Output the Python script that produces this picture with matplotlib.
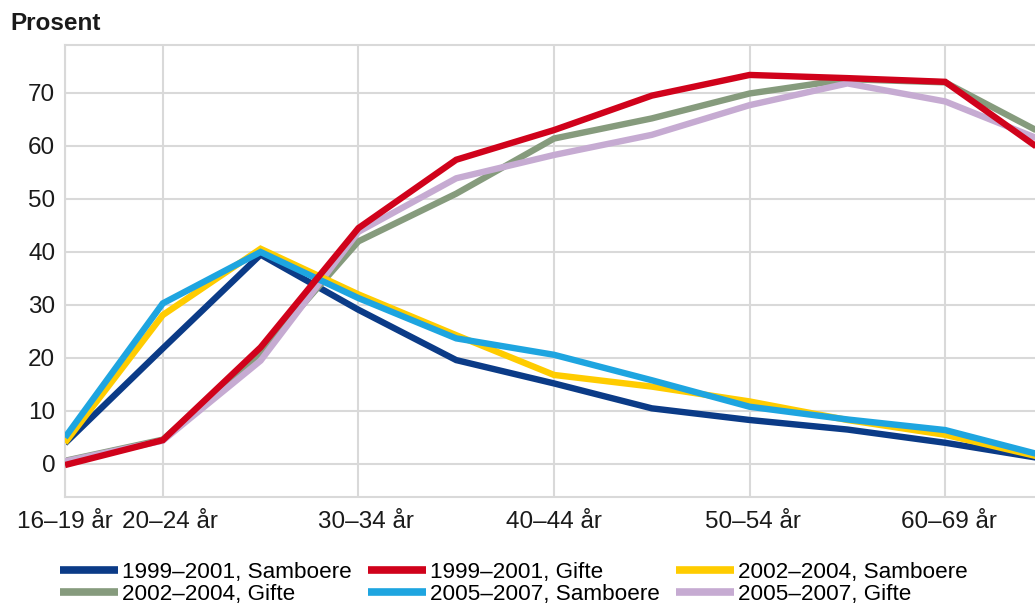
import matplotlib
matplotlib.use("Agg")
import matplotlib.pyplot as plt
from matplotlib.lines import Line2D
from matplotlib.transforms import ScaledTranslation

plt.rcParams['font.family'] = ['Liberation Sans', 'DejaVu Sans']

categories = ["16–19 år", "20–24 år", "25–29 år", "30–34 år", "35–39 år", "40–44 år",
              "45–49 år", "50–54 år", "55–59 år", "60–69 år", "70–79 år"]
shown_ticks = [0, 1, 3, 5, 7, 9]

samboere_1999 = [3.9, 21.8, 39.5, 29.1, 19.6, 15.2, 10.5, 8.3, 6.5, 4.0, 1.0]
gifte_1999    = [-0.2, 4.5, 22.0, 44.5, 57.4, 63.0, 69.5, 73.4, 72.8, 72.1, 59.0]
samboere_2002 = [4.0, 28.1, 40.6, 32.0, 24.3, 16.8, 14.6, 11.8, 8.3, 5.5, 1.2]
gifte_2002    = [0.6, 4.6, 21.0, 42.0, 51.0, 61.4, 65.2, 69.9, 72.6, 72.0, 62.3]
samboere_2005 = [5.0, 30.3, 40.0, 31.3, 23.7, 20.6, 15.8, 10.8, 8.4, 6.4, 1.6]
gifte_2005    = [0.5, 4.4, 19.5, 43.8, 53.9, 58.3, 62.1, 67.7, 71.8, 68.4, 61.0]

series = [
    ("1999–2001, Samboere", samboere_1999, "#0b3b87", 1),
    ("1999–2001, Gifte", gifte_1999, "#d0021b", 6),
    ("2002–2004, Samboere", samboere_2002, "#ffcc00", 4),
    ("2002–2004, Gifte", gifte_2002, "#869b7d", 2),
    ("2005–2007, Samboere", samboere_2005, "#1ea5e0", 5),
    ("2005–2007, Gifte", gifte_2005, "#c6abd2", 3),
]

W, H = 1035, 608
fig = plt.figure(figsize=(W / 100, H / 100), dpi=100)
ax = fig.add_axes([65 / W, 1 - 497 / H, (W - 65) / W, (497 - 45) / H])

x = list(range(len(categories)))
handles = {}
for label, vals, color, z in series:
    ax.plot(x, vals, color=color, lw=4.6, zorder=z, solid_joinstyle='miter',
            solid_capstyle='butt')
    handles[label] = Line2D([], [], color=color, lw=5.5, solid_capstyle='butt')

ax.set_xlim(0, (W - 65) / 97.8)
ax.set_ylim(-6.23, 79.05)
ax.set_yticks(range(0, 71, 10))
ax.set_xticks(shown_ticks)
ax.set_xticklabels([categories[i] for i in shown_ticks])

gridc = "#d9d9d9"
ax.grid(True, color=gridc, lw=1.5, zorder=0)
ax.set_axisbelow(True)
for s in ax.spines.values():
    s.set_color(gridc)
    s.set_linewidth(1.5)
ax.spines['right'].set_visible(False)
ax.tick_params(length=0, labelsize=17.5, colors="#1a1a1a")
ax.tick_params(axis='x', pad=10)
ax.tick_params(axis='y', pad=7)

# small horizontal nudges of the tick labels, as in the original layout
nudges_px = [0, 7, 8, 0, 3, 4]
for lab, dx in zip(ax.get_xticklabels(), nudges_px):
    lab.set_transform(lab.get_transform() + ScaledTranslation(dx / 100, 0, fig.dpi_scale_trans))

fig.text(10 / W, 1 - 23 / H, "Prosent", fontsize=17.5, fontweight='bold',
         ha='left', va='center', color="#1a1a1a")

order = ["1999–2001, Samboere", "2002–2004, Gifte", "1999–2001, Gifte",
         "2005–2007, Samboere", "2002–2004, Samboere", "2005–2007, Gifte"]
fig.legend([handles[k] for k in order], order, ncol=3, loc='upper left',
           bbox_to_anchor=(60 / W, 1 - 562 / H), frameon=False, fontsize=16.2,
           handlelength=2.58, handletextpad=0.18, columnspacing=0.72,
           labelspacing=0.06, borderpad=0, borderaxespad=0)

fig.savefig("out.png", dpi=100)
